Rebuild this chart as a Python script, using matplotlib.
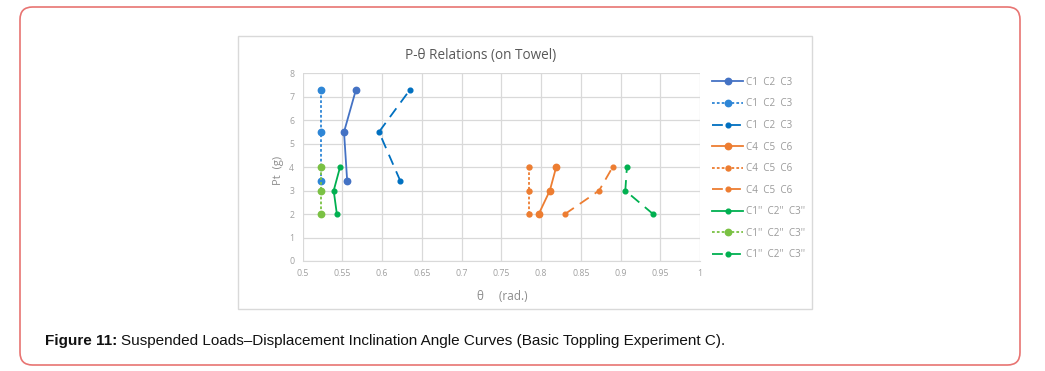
import matplotlib.pyplot as plt
from matplotlib.patches import FancyBboxPatch, Rectangle

# data
loads_blue = [3.4, 5.5, 7.3]
loads_other = [2, 3, 4]

theta_c123_a = [0.556, 0.552, 0.567]
theta_c123_b = [0.5236, 0.5236, 0.5236]
theta_c123_c = [0.623, 0.596, 0.635]
theta_c456_a = [0.797, 0.811, 0.819]
theta_c456_b = [0.785, 0.785, 0.785]
theta_c456_c = [0.830, 0.873, 0.890]
theta_c1pp_a = [0.543, 0.539, 0.547]
theta_c1pp_b = [0.5236, 0.5236, 0.5236]
theta_c1pp_c = [0.941, 0.906, 0.908]

labels = ["C1  C2  C3"] * 3 + ["C4  C5  C6"] * 3 + ["C1''  C2''  C3''"] * 3
x_ticks = [0.5, 0.55, 0.6, 0.65, 0.7, 0.75, 0.8, 0.85, 0.9, 0.95, 1]
x_tick_labels = ["0.5", "0.55", "0.6", "0.65", "0.7", "0.75", "0.8", "0.85", "0.9", "0.95", "1"]
y_ticks = list(range(0, 9))

W, H = 1045, 371
fig = plt.figure(figsize=(W / 100, H / 100), dpi=100)

# outer red rounded frame
fig.patches.append(FancyBboxPatch((20 / W, 1 - 365 / H), 1000 / W, 358 / H,
                                  boxstyle="round,pad=0,rounding_size=0.012",
                                  transform=fig.transFigure, fill=False,
                                  edgecolor="#e87472", linewidth=1.2,
                                  mutation_aspect=W / H))
# chart area box
fig.patches.append(Rectangle((238 / W, 1 - 309 / H), 574 / W, 273 / H,
                             transform=fig.transFigure, fill=False,
                             edgecolor="#d9d9d9", linewidth=1.0))

ax = fig.add_axes([302.7 / W, 1 - 261 / H, 397.3 / W, 187.7 / H])

series = [
    (theta_c123_a, loads_blue, "#4472c4", "-", 4.6),
    (theta_c123_b, loads_blue, "#2e86d6", (0, (1.5, 1.2)), 4.6),
    (theta_c123_c, loads_blue, "#0070c0", (0, (6, 4)), 3.4),
    (theta_c456_a, loads_other, "#ed7d31", "-", 4.6),
    (theta_c456_b, loads_other, "#ed7d31", (0, (1.5, 1.2)), 3.6),
    (theta_c456_c, loads_other, "#ed7d31", (0, (6, 4)), 3.4),
    (theta_c1pp_a, loads_other, "#00b050", "-", 3.4),
    (theta_c1pp_b, loads_other, "#7ac143", (0, (1.5, 1.2)), 4.6),
    (theta_c1pp_c, loads_other, "#00b050", (0, (6, 4)), 3.4),
]

handles = []
for (xs, ys, c, ls, ms), lab in zip(series, labels):
    ln, = ax.plot(xs, ys, color=c, linestyle=ls, linewidth=1.3,
                  marker="o", markersize=ms, label=lab, zorder=3)
    handles.append(ln)

ax.set_xlim(0.5, 1)
ax.set_ylim(0, 8)
ax.set_xticks(x_ticks)
ax.set_xticklabels(x_tick_labels)
ax.set_yticks(y_ticks)
ax.grid(True, color="#d9d9d9", linewidth=0.9)
ax.set_axisbelow(True)
for s in ["top", "right", "left"]:
    ax.spines[s].set_visible(False)
ax.spines["bottom"].set_color("#d9d9d9")
ax.tick_params(length=0, labelsize=6.3, labelcolor="#a0a0a0", pad=6)
for t in ax.get_xticklabels() + ax.get_yticklabels():
    t.set_family("Open Sans")

fig.text(481 / W, 1 - 55 / H, "P-θ Relations (on Towel)", ha="center", va="center",
         fontsize=9.8, color="#595959", family="Open Sans")
fig.text(502 / W, 1 - 297 / H, "θ     (rad.)", ha="center", va="center",
         fontsize=8.5, color="#8c8c8c", family="Open Sans")
fig.text(278 / W, 1 - 170 / H, "Pt  (g)", ha="center", va="center", rotation=90,
         fontsize=8, color="#8c8c8c", family="Open Sans")

leg = fig.legend(handles=handles, loc="upper left",
                 bbox_to_anchor=(703 / W, 1 - 68 / H), frameon=False,
                 handlelength=3.2, handletextpad=0.25,
                 labelspacing=1.07, prop={"family": "Open Sans", "size": 7.1})
for t in leg.get_texts():
    t.set_color("#9a9a9a")

cap = fig.text(45 / W, 1 - 341 / H, "Figure 11:", ha="left", va="center",
               fontsize=11.0, fontweight="bold", family="Liberation Sans", color="#111111")
fig.canvas.draw()
bb = cap.get_window_extent()
fig.text(bb.x1 / W + 4 / W, 1 - 341 / H,
         "Suspended Loads\u2013Displacement Inclination Angle Curves (Basic Toppling Experiment C).",
         ha="left", va="center", fontsize=11.0, family="Liberation Sans", color="#111111")

fig.savefig("out.png", dpi=100)
